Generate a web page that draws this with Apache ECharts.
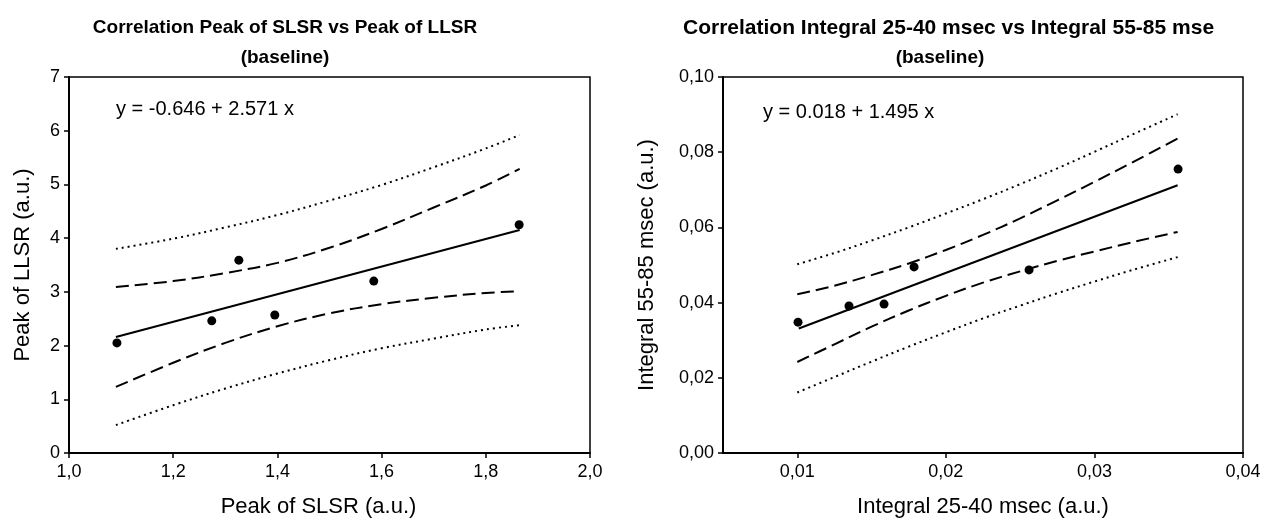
<!DOCTYPE html>
<html>
<head>
<meta charset="utf-8">
<script src="https://cdn.jsdelivr.net/npm/echarts@6/dist/echarts.min.js"></script>
<style>
  html, body { margin: 0; padding: 0; background: #fff; }
  #chart { width: 1269px; height: 525px; }
</style>
</head>
<body>
<div id="chart"></div>
<script>
// ---------- Left panel data ----------
const slsrPeak = [1.092, 1.274, 1.326, 1.395, 1.585, 1.864];
const llsrPeak = [2.05, 2.46, 3.59, 2.57, 3.20, 4.25];
const fitX1 = [1.09, 1.865];
const fitY1 = [2.16, 4.15];
const bandX1 = [1.09, 1.2, 1.3, 1.4, 1.5, 1.6, 1.7, 1.8, 1.865];
const confUp1 = [3.09, 3.20, 3.35, 3.54, 3.82, 4.17, 4.57, 4.98, 5.29];
const confLo1 = [1.23, 1.68, 2.05, 2.36, 2.60, 2.77, 2.89, 2.98, 3.01];
const predUp1 = [3.80, 3.99, 4.20, 4.43, 4.70, 4.99, 5.32, 5.67, 5.92];
const predLo1 = [0.52, 0.89, 1.20, 1.48, 1.73, 1.95, 2.13, 2.30, 2.38];

// ---------- Right panel data ----------
const int2540 = [0.01005, 0.01348, 0.01584, 0.01786, 0.0256, 0.03563];
const int5585 = [0.0348, 0.0391, 0.0396, 0.0495, 0.0487, 0.0755];
const fitX2 = [0.0101, 0.0356];
const fitY2 = [0.0331, 0.0712];
const bandX2 = [0.01, 0.0125, 0.015, 0.0175, 0.02, 0.0225, 0.025, 0.0275, 0.03, 0.0325, 0.0356];
const confUp2 = [0.0422, 0.0445, 0.0473, 0.0504, 0.0540, 0.0580, 0.0624, 0.0672, 0.0721, 0.0772, 0.0836];
const confLo2 = [0.0242, 0.0289, 0.0336, 0.0379, 0.0418, 0.0453, 0.0483, 0.0511, 0.0536, 0.0560, 0.0588];
const predUp2 = [0.0502, 0.0532, 0.0565, 0.0600, 0.0637, 0.0675, 0.0715, 0.0757, 0.0801, 0.0846, 0.0901];
const predLo2 = [0.0161, 0.0202, 0.0243, 0.0283, 0.0321, 0.0358, 0.0392, 0.0425, 0.0456, 0.0486, 0.0521];
const xTicks2 = [0.01, 0.02, 0.03, 0.04];

// ---------- Text ----------
const title1 = 'Correlation Peak of SLSR vs Peak of LLSR';
const title2 = 'Correlation Integral 25-40 msec vs Integral 55-85 mse';
const subTitle = '(baseline)';
const eq1 = 'y = -0.646 + 2.571 x';
const eq2 = 'y = 0.018 + 1.495 x';

const FONT = '"Liberation Sans", Arial, Helvetica, sans-serif';
const zip = (xs, ys) => xs.map((x, i) => [x, ys[i]]);
const comma = d => v => Number(v).toFixed(d).replace('.', ',');

function axisCommon() {
  return {
    axisLine: { show: true, onZero: false, lineStyle: { color: '#000', width: 2 } },
    axisTick: { show: true, inside: false, length: 5, lineStyle: { color: '#000', width: 1.5 } },
    splitLine: { show: false },
    nameTextStyle: { color: '#000', fontFamily: FONT, fontSize: 22 },
  };
}
function labelStyle(fmt) {
  return { color: '#000', fontFamily: FONT, fontSize: 18, formatter: fmt };
}
function lineSeries(xi, data, type, width) {
  return {
    type: 'line', xAxisIndex: xi, yAxisIndex: xi, data: data,
    showSymbol: false, symbol: 'none', smooth: 0.35, silent: true,
    lineStyle: { color: '#000', width: width, type: type, cap: 'butt', opacity: 1 },
    z: 2
  };
}
const DOT = [2, 4];
const DASH = [13, 6];

const chart = echarts.init(document.getElementById('chart'), null, { renderer: 'canvas' });
chart.setOption({
  animation: false,
  backgroundColor: '#fff',
  title: [
    { text: title1 + '\n' + subTitle, left: 280, top: 8, textAlign: 'center',
      textStyle: { fontFamily: FONT, fontSize: 19, fontWeight: 'bold', color: '#000', lineHeight: 30 } },
    { text: title2, left: 678, top: 8,
      textStyle: { fontFamily: FONT, fontSize: 21, fontWeight: 'bold', color: '#000', lineHeight: 30 } },
    { text: subTitle, left: 935, top: 38, textAlign: 'center',
      textStyle: { fontFamily: FONT, fontSize: 19, fontWeight: 'bold', color: '#000', lineHeight: 30 } }
  ],
  graphic: [
    { type: 'text', left: 116, top: 99, style: { text: eq1, font: '20px ' + FONT, fill: '#000' } },
    { type: 'text', left: 763, top: 102, style: { text: eq2, font: '20px ' + FONT, fill: '#000' } }
  ],
  grid: [
    { left: 69, top: 77, width: 521, height: 376, show: true, borderColor: '#000', borderWidth: 1.5, backgroundColor: 'transparent' },
    { left: 723, top: 77, width: 520, height: 376, show: true, borderColor: '#000', borderWidth: 1.5, backgroundColor: 'transparent' }
  ],
  xAxis: [
    Object.assign(axisCommon(), {
      type: 'value', gridIndex: 0, min: 1.0, max: 2.0, interval: 0.2,
      name: 'Peak of SLSR (a.u.)', nameLocation: 'middle', nameGap: 43,
      nameTextStyle: { color: '#000', fontFamily: FONT, fontSize: 22, padding: [0, 22, 0, 0] },
      axisLabel: Object.assign(labelStyle(comma(1)), { margin: 10 })
    }),
    Object.assign(axisCommon(), {
      type: 'value', gridIndex: 1, min: 0.005, max: 0.04, interval: 0.005,
      name: 'Integral 25-40 msec (a.u.)', nameLocation: 'middle', nameGap: 43,
      axisTick: { show: true, inside: false, length: 5, customValues: xTicks2, lineStyle: { color: '#000', width: 1.5 } },
      axisLabel: Object.assign(labelStyle(comma(2)), { margin: 10, customValues: xTicks2 })
    })
  ],
  yAxis: [
    Object.assign(axisCommon(), {
      type: 'value', gridIndex: 0, min: 0, max: 7, interval: 1,
      name: 'Peak of LLSR (a.u.)', nameLocation: 'middle', nameGap: 35, nameRotate: 90,
      axisLabel: Object.assign(labelStyle(v => String(v)), { margin: 9 })
    }),
    Object.assign(axisCommon(), {
      type: 'value', gridIndex: 1, min: 0, max: 0.1, interval: 0.02,
      name: 'Integral 55-85 msec (a.u.)', nameLocation: 'middle', nameGap: 65, nameRotate: 90,
      axisLabel: Object.assign(labelStyle(comma(2)), { margin: 9 })
    })
  ],
  series: [
    lineSeries(0, zip(bandX1, predUp1), DOT, 2),
    lineSeries(0, zip(bandX1, predLo1), DOT, 2),
    lineSeries(0, zip(bandX1, confUp1), DASH, 2),
    lineSeries(0, zip(bandX1, confLo1), DASH, 2),
    Object.assign(lineSeries(0, zip(fitX1, fitY1), 'solid', 2), { smooth: false }),
    { type: 'scatter', xAxisIndex: 0, yAxisIndex: 0, data: zip(slsrPeak, llsrPeak),
      symbol: 'circle', symbolSize: 9, itemStyle: { color: '#000', opacity: 1 }, z: 3 },

    lineSeries(1, zip(bandX2, predUp2), DOT, 2),
    lineSeries(1, zip(bandX2, predLo2), DOT, 2),
    lineSeries(1, zip(bandX2, confUp2), DASH, 2),
    lineSeries(1, zip(bandX2, confLo2), DASH, 2),
    Object.assign(lineSeries(1, zip(fitX2, fitY2), 'solid', 2), { smooth: false }),
    { type: 'scatter', xAxisIndex: 1, yAxisIndex: 1, data: zip(int2540, int5585),
      symbol: 'circle', symbolSize: 9, itemStyle: { color: '#000', opacity: 1 }, z: 3 }
  ]
});
</script>
</body>
</html>
